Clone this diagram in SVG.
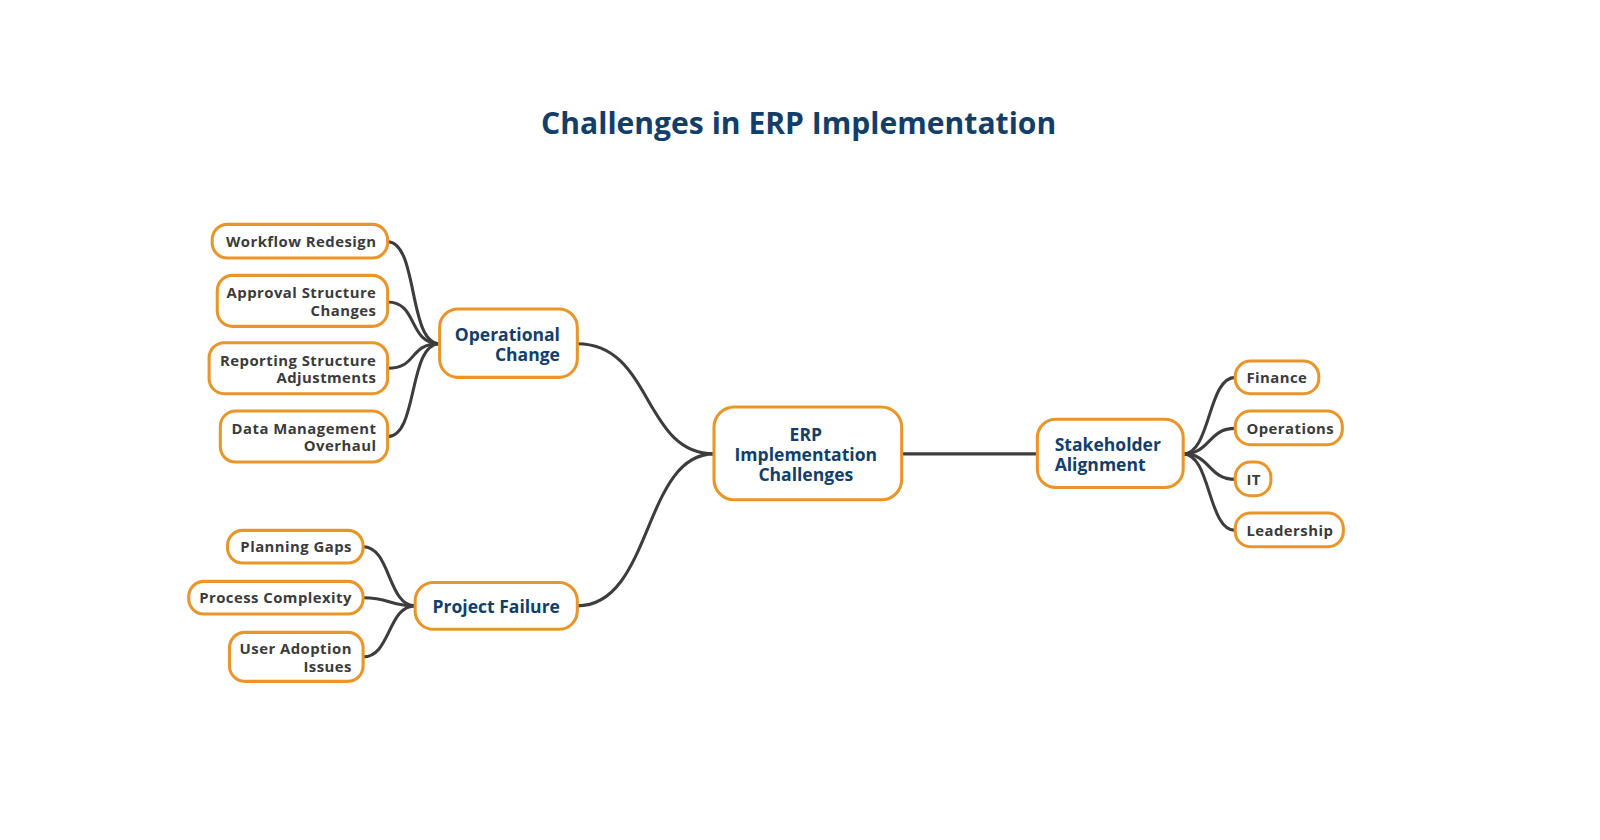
<svg xmlns="http://www.w3.org/2000/svg" width="1600" height="840" viewBox="0 0 1600 840">
<style>
.n rect{fill:#fff;stroke:#e8962a;stroke-width:3}
.m{font-family:"Open Sans","DejaVu Sans",sans-serif;font-weight:700;font-size:17.2px;fill:#123e68}
.c{font-family:"Open Sans","DejaVu Sans",sans-serif;font-weight:700;font-size:14.6px;letter-spacing:0.45px;fill:#3b3b3b}
.l path{fill:none;stroke:#3d3d3d;stroke-width:3;stroke-linecap:round}
.t{font-family:"Open Sans","DejaVu Sans",sans-serif;font-weight:700;font-size:29.5px;fill:#123e68}
</style>
<rect width="1600" height="840" fill="#fff"/>
<g transform="scale(1.02)">
<text class="t" x="783" y="131" text-anchor="middle">Challenges in ERP Implementation</text>
<g class="l" id="connectors">
<path d="M566,337 C640,337 630,445 700,445"/>
<path d="M566,594 C640,594 630,445 700,445"/>
<path d="M884,445 L1017,445"/>
<path d="M431,337 C400,337 410,237 380,237"/>
<path d="M431,337 C400,337 410,296 380,296"/>
<path d="M431,337 C400,337 410,361 380,361"/>
<path d="M431,337 C400,337 410,428 380,428"/>
<path d="M407,594 C380,594 383,536 356,536"/>
<path d="M407,594 C380,594 383,586 356,586"/>
<path d="M407,594 C380,594 383,644 356,644"/>
<path d="M1160,445 C1187,445 1184,370 1211,370"/>
<path d="M1160,445 C1187,445 1184,420 1211,420"/>
<path d="M1160,445 C1187,445 1184,470 1211,470"/>
<path d="M1160,445 C1187,445 1184,520 1211,520"/>
</g>
<g class="n" id="root"><rect x="700" y="399" width="184" height="91" rx="20"/>
<text class="m" text-anchor="middle"><tspan x="790" y="432">ERP</tspan><tspan x="790" y="452">Implementation</tspan><tspan x="790" y="472">Challenges</tspan></text></g>
<g class="n" id="stakeholder"><rect x="1017" y="411" width="143" height="67" rx="18"/>
<text class="m"><tspan x="1034" y="442">Stakeholder</tspan><tspan x="1034" y="462">Alignment</tspan></text></g>
<g class="n" id="operational"><rect x="431" y="303" width="135" height="67" rx="18"/>
<text class="m" text-anchor="end"><tspan x="549" y="334">Operational</tspan><tspan x="549" y="354">Change</tspan></text></g>
<g class="n" id="project"><rect x="407" y="571" width="159" height="46" rx="18"/>
<text class="m" text-anchor="end"><tspan x="549" y="601">Project Failure</tspan></text></g>
<g class="n" id="workflow"><rect x="208" y="220" width="172" height="33" rx="15"/>
<text class="c" text-anchor="end"><tspan x="369" y="242.5">Workflow Redesign</tspan></text></g>
<g class="n" id="approval"><rect x="213" y="270" width="167" height="50" rx="15"/>
<text class="c" text-anchor="end"><tspan x="369" y="292.5">Approval Structure</tspan><tspan x="369" y="309.5">Changes</tspan></text></g>
<g class="n" id="reporting"><rect x="205" y="336" width="175" height="50" rx="15"/>
<text class="c" text-anchor="end"><tspan x="369" y="358.5">Reporting Structure</tspan><tspan x="369" y="375.5">Adjustments</tspan></text></g>
<g class="n" id="data"><rect x="216" y="403" width="164" height="50" rx="15"/>
<text class="c" text-anchor="end"><tspan x="369" y="425.5">Data Management</tspan><tspan x="369" y="442.5">Overhaul</tspan></text></g>
<g class="n" id="planning"><rect x="223" y="520" width="133" height="32" rx="15"/>
<text class="c" text-anchor="end"><tspan x="345" y="541.5">Planning Gaps</tspan></text></g>
<g class="n" id="process"><rect x="185" y="570" width="171" height="32" rx="15"/>
<text class="c" text-anchor="end"><tspan x="345" y="591.5">Process Complexity</tspan></text></g>
<g class="n" id="user"><rect x="225" y="620" width="131" height="48" rx="15"/>
<text class="c" text-anchor="end"><tspan x="345" y="641.5">User Adoption</tspan><tspan x="345" y="658.5">Issues</tspan></text></g>
<g class="n" id="finance"><rect x="1211" y="354" width="82" height="32" rx="15"/>
<text class="c"><tspan x="1222" y="375.5">Finance</tspan></text></g>
<g class="n" id="operations"><rect x="1211" y="403" width="105" height="33" rx="15"/>
<text class="c"><tspan x="1222" y="425.5">Operations</tspan></text></g>
<g class="n" id="it"><rect x="1211" y="453" width="35" height="33" rx="15"/>
<text class="c"><tspan x="1222" y="475.5">IT</tspan></text></g>
<g class="n" id="leadership"><rect x="1211" y="503" width="106" height="33" rx="15"/>
<text class="c"><tspan x="1222" y="525.5">Leadership</tspan></text></g>
</g>
</svg>
